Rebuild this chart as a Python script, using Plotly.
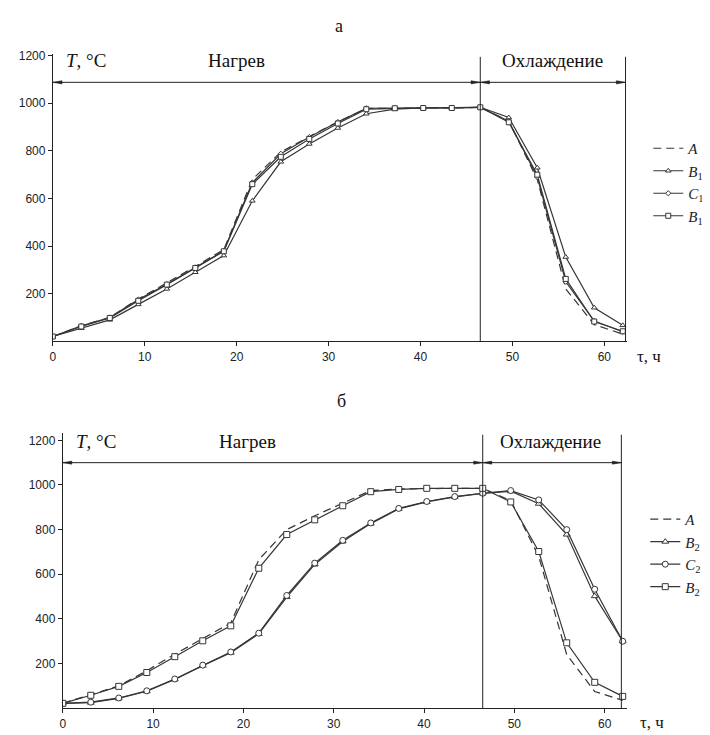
import plotly.graph_objects as go

# ---- data (time in hours, temperature in °C) ----
time_h = [0, 3.1, 6.2, 9.3, 12.4, 15.5, 18.6, 21.7, 24.8, 27.9, 31.0,
          34.1, 37.2, 40.3, 43.4, 46.5, 49.6, 52.7, 55.8, 58.9, 62.0]

# panel а
a_A  = [20, 65, 100, 178, 245, 315, 385, 680, 795, 860, 922, 978, 980, 980, 980, 983, 925, 680, 220, 70, 30]
a_B1 = [20, 55, 90, 155, 220, 290, 360, 590, 754, 829, 896, 956, 975, 980, 980, 983, 940, 729, 354, 141, 67]
a_C1 = [20, 65, 100, 175, 240, 310, 380, 667, 788, 858, 921, 979, 980, 980, 980, 983, 925, 690, 250, 85, 40]
a_D1 = [20, 62, 98, 170, 238, 308, 378, 660, 775, 850, 915, 975, 979, 980, 980, 983, 920, 700, 262, 83, 42]

# panel б
b_A  = [22, 60, 100, 168, 242, 312, 382, 665, 800, 862, 920, 975, 982, 985, 985, 985, 930, 680, 240, 75, 35]
b_B2 = [22, 25, 44, 76, 129, 191, 249, 333, 498, 644, 747, 827, 893, 924, 947, 962, 972, 916, 778, 502, 300]
b_C2 = [22, 27, 46, 78, 131, 193, 252, 336, 505, 650, 752, 830, 895, 926, 948, 963, 975, 933, 800, 533, 300]
b_D2 = [22, 58, 98, 160, 231, 302, 369, 627, 778, 844, 907, 970, 980, 985, 985, 985, 924, 702, 293, 116, 53]

x_ticks = [0, 10, 20, 30, 40, 50, 60]
y_ticks = [200, 400, 600, 800, 1000, 1200]

phase_a = dict(heat_end=46.5, cool_end=62.3, arrow_y=1088, top=1195)
phase_b = dict(heat_end=46.5, cool_end=61.85, arrow_y=1100, top=1225)

# the page body has an 8px default margin; figure is sized to fit the window
OFF = 8
W, H = 710 - OFF, 735 - OFF
LINE = "#363636"
SERIF = "Liberation Serif, Times New Roman, serif"
SANS = "Liberation Sans, Arial, sans-serif"

fig = go.Figure()

def add_series(x, y, name, symbol, xa, ya, leg, dash="solid", msize=5, show_marker=True):
    fig.add_trace(go.Scatter(
        x=x, y=y, name=name, xaxis=xa, yaxis=ya, legend=leg,
        mode="lines+markers" if show_marker else "lines",
        line=dict(color=LINE, width=1.2, dash=dash),
        marker=dict(symbol=symbol, size=msize, color="white",
                    line=dict(color=LINE, width=1)),
    ))

# panel а traces
add_series(time_h, a_A, "<i>A</i>", "circle", "x", "y", "legend", dash="8px,5px", show_marker=False)
add_series(time_h, a_B1, "<i>B</i><sub>1</sub>", "triangle-up", "x", "y", "legend", msize=5)
add_series(time_h, a_C1, "<i>C</i><sub>1</sub>", "diamond", "x", "y", "legend", msize=4)
add_series(time_h, a_D1, "<i>B</i><sub>1</sub>", "square", "x", "y", "legend", msize=5)

# panel б traces
add_series(time_h, b_A, "<i>A</i>", "circle", "x2", "y2", "legend2", dash="8px,5px", show_marker=False)
add_series(time_h, b_B2, "<i>B</i><sub>2</sub>", "triangle-up", "x2", "y2", "legend2", msize=6)
add_series(time_h, b_C2, "<i>C</i><sub>2</sub>", "circle", "x2", "y2", "legend2", msize=6)
add_series(time_h, b_D2, "<i>B</i><sub>2</sub>", "square", "x2", "y2", "legend2", msize=6)

def px_x(p):
    return (p - OFF) / W

def px_y(p):
    return 1 - (p - OFF) / H

axis_common = dict(showline=True, linecolor="#222", linewidth=1, showgrid=False,
                   zeroline=False, ticks="outside", ticklen=4, tickcolor="#222",
                   tickfont=dict(family=SANS, size=12, color="#222"))

fig.update_layout(
    width=W, height=H, margin=dict(l=0, r=0, t=0, b=0),
    paper_bgcolor="white", plot_bgcolor="white",
    xaxis=dict(domain=[px_x(50), px_x(627)], range=[0, 62.5], tickvals=x_ticks,
               anchor="y", **axis_common),
    yaxis=dict(domain=[px_y(338), px_y(48.8)], range=[0, 1205], tickvals=y_ticks,
               anchor="x", **axis_common),
    xaxis2=dict(domain=[px_x(60), px_x(60 + 62.5 * 9.07)], range=[0, 62.5], tickvals=x_ticks,
                anchor="y2", **axis_common),
    yaxis2=dict(domain=[px_y(708), px_y(430)], range=[0, 1235], tickvals=y_ticks,
                anchor="x2", **axis_common),
    legend=dict(x=px_x(648), y=px_y(127), xanchor="left", yanchor="top",
                font=dict(family=SERIF, size=15, color="#222"),
                bgcolor="rgba(0,0,0,0)", tracegroupgap=0, itemwidth=30),
    legend2=dict(x=px_x(645), y=px_y(501), xanchor="left", yanchor="top",
                 font=dict(family=SERIF, size=15, color="#222"),
                 bgcolor="rgba(0,0,0,0)", tracegroupgap=0, itemwidth=30),
    showlegend=True,
)

shapes = []
annotations = []

def phase_decor(xr, yr, ph, heat_label_x, cool_label_x, label_y):
    yv = ph["arrow_y"]
    hl, hh = 1.0, 7  # arrowhead length (h) and half height (°C)
    for xv in (ph["heat_end"], ph["cool_end"]):
        shapes.append(dict(type="line", xref=xr, yref=yr, x0=xv, x1=xv, y0=0, y1=ph["top"],
                           line=dict(color="#222", width=1)))
    for (a, b) in ((0, ph["heat_end"]), (ph["heat_end"], ph["cool_end"])):
        shapes.append(dict(type="line", xref=xr, yref=yr, x0=a, x1=b, y0=yv, y1=yv,
                           line=dict(color="#222", width=1)))
        for tip, d in ((a, 1), (b, -1)):
            path = f"M {tip},{yv} L {tip + d * hl},{yv + hh} L {tip + d * hl},{yv - hh} Z"
            shapes.append(dict(type="path", xref=xr, yref=yr, path=path,
                               fillcolor="#222", line=dict(color="#222", width=0.5)))
    annotations.append(dict(xref=xr, yref=yr, x=1.2, y=label_y, text="<i>T</i>, °C",
                            showarrow=False, xanchor="left", yanchor="middle",
                            font=dict(family=SERIF, size=19, color="#111")))
    annotations.append(dict(xref=xr, yref=yr, x=heat_label_x, y=label_y, text="Нагрев",
                            showarrow=False, xanchor="center", yanchor="middle",
                            font=dict(family=SERIF, size=19, color="#111")))
    annotations.append(dict(xref=xr, yref=yr, x=cool_label_x, y=label_y, text="Охлаждение",
                            showarrow=False, xanchor="center", yanchor="middle",
                            font=dict(family=SERIF, size=19, color="#111")))

phase_decor("x", "y", phase_a, 20.0, 54.4, 1178)
phase_decor("x2", "y2", phase_b, 20.4, 54.0, 1195)

# panel titles and x-axis labels
annotations.append(dict(xref="paper", yref="paper", x=px_x(337), y=px_y(20), text="а",
                        showarrow=False, xanchor="center", yanchor="middle",
                        font=dict(family=SERIF, size=18, color="#111")))
annotations.append(dict(xref="paper", yref="paper", x=px_x(340), y=px_y(398), text="б",
                        showarrow=False, xanchor="center", yanchor="middle",
                        font=dict(family=SERIF, size=18, color="#111")))
annotations.append(dict(xref="paper", yref="paper", x=px_x(635), y=px_y(353), text="τ, ч",
                        showarrow=False, xanchor="left", yanchor="middle",
                        font=dict(family=SERIF, size=17, color="#111")))
annotations.append(dict(xref="paper", yref="paper", x=px_x(638), y=px_y(722), text="τ, ч",
                        showarrow=False, xanchor="left", yanchor="middle",
                        font=dict(family=SERIF, size=17, color="#111")))

fig.update_layout(shapes=shapes, annotations=annotations)

fig.write_html("out.html")
